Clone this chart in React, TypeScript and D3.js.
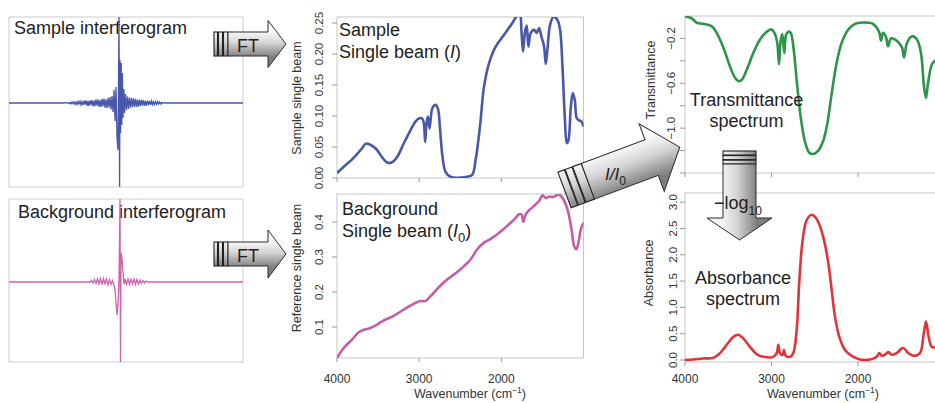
import React from 'react';
import * as d3 from 'd3';

const FONT = '"Liberation Sans", Arial, Helvetica, sans-serif';

// ---------- DATA ----------
// Interferograms: [offset from centre burst (arb. units), signal]
const SAMPLE_IFG: [number, number][] = [
  [-110, 0], [-56, 0], [-52, 0.4], [-50, -0.5], [-49, 0.5], [-48, -0.8], [-47, 1], [-46, -0.6],
  [-45, 1.2], [-44, -1.4], [-43, 0.8], [-42, -1.5], [-41, 1.6], [-40, -1], [-39, 1.8], [-38, -2],
  [-37, 1.2], [-36, -2.2], [-35, 2.4], [-34, -1.5], [-33, 2.6], [-32, -2.8], [-31, 2], [-30, -3],
  [-29, 2.6], [-28, -2.2], [-27, 3], [-26, -3.4], [-25, 2.4], [-24, -3.2], [-23, 3.6], [-22, -2.6],
  [-21, 3.4], [-20, -3.8], [-19, 3], [-18, -4], [-17, 4.2], [-16, -3.2], [-15, 4.4], [-14, -4.6],
  [-13, 3.6], [-12, -5], [-11, 5.2], [-10, -4.4], [-9, 6], [-8, -6.5], [-7, 7], [-6, -9],
  [-5, 13], [-4, -18], [-3, 16], [-2, -35], [-1, -47], [-0.5, 20], [0, 86], [0.6, -84],
  [1, 43], [1.6, -30], [2.2, 40], [2.8, -22], [3.4, 30], [4, -15], [4.8, 14], [5.6, -10],
  [6.5, 9], [7.5, -7], [8.5, 6.5], [9.5, -6], [10.5, 5.5], [11.5, -4.8], [12.5, 5], [13.5, -4.2],
  [14.5, 4.6], [15.5, -3.8], [16.5, 4.2], [17.5, -4], [18.5, 3.4], [19.5, -3.6], [20.5, 3.2],
  [21.5, -2.8], [22.5, 3.4], [23.5, -2.6], [24.5, 2.8], [25.5, -3], [26.5, 2.2], [27.5, -2.6],
  [28.5, 2.4], [29.5, -2], [30.5, 2.2], [31.5, -1.8], [32.5, 2], [33.5, -1.6], [34.5, 1.4],
  [35.5, -1.6], [36.5, 1.2], [37.5, -1.2], [38.5, 1.4], [39.5, -1], [40.5, 0.8], [41.5, -1],
  [42.5, 0.6], [43.5, -0.6], [45, 0.4], [47, 0], [124, 0],
];
const BACKGROUND_IFG: [number, number][] = [
  [-111, 0], [-30, 0], [-28.5, 1.5], [-27, -1], [-25.5, 2.5], [-24, -1.5], [-22.5, 3], [-21, -2],
  [-19.5, 3.5], [-18, -2.5], [-16.5, 3.5], [-15, -2], [-13.5, 3], [-12, -3], [-10.5, 2.5], [-9, -2.5],
  [-7.5, 1.5], [-6, -3], [-5, -8], [-4, -20], [-3, -33], [-2, -22], [-1, 2], [0, 83], [0.5, -80],
  [1, 29], [2, 24], [3, 10], [4, -2], [5, 3], [6.5, -2.5], [8, 3], [9.5, -2.5], [11, 3], [12.5, -2],
  [14, 3], [15.5, -2.5], [17, 2.5], [18.5, -2], [20, 2], [21.5, -1.5], [23, 1.5], [24.5, -1],
  [26, 1], [28, 0], [123, 0],
];

// Spectra: [wavenumber (cm-1), value]
const SAMPLE_BEAM: [number, number][] = [
  [4000, 0.008], [3878, 0.023], [3817, 0.030], [3695, 0.048], [3654, 0.055], [3614, 0.055],
  [3532, 0.048], [3431, 0.030], [3390, 0.025], [3337, 0.025], [3268, 0.034], [3187, 0.056],
  [3106, 0.077], [3045, 0.091], [3004, 0.096], [2963, 0.096], [2943, 0.088], [2927, 0.058],
  [2911, 0.088], [2894, 0.099], [2874, 0.080], [2858, 0.098], [2841, 0.112], [2801, 0.118],
  [2772, 0.112], [2748, 0.083], [2720, 0.039], [2679, 0.010], [2618, 0.002], [2415, 0.002],
  [2354, 0.005], [2313, 0.029], [2260, 0.083], [2211, 0.147], [2150, 0.185], [2069, 0.212],
  [1967, 0.231], [1866, 0.250], [1805, 0.262], [1772, 0.262], [1756, 0.239], [1736, 0.204],
  [1711, 0.237], [1691, 0.246], [1671, 0.212], [1642, 0.234], [1602, 0.239], [1569, 0.234],
  [1541, 0.242], [1512, 0.228], [1480, 0.212], [1459, 0.184], [1439, 0.207], [1407, 0.247],
  [1366, 0.260], [1317, 0.255], [1285, 0.239], [1256, 0.180], [1228, 0.099], [1203, 0.056],
  [1183, 0.061], [1154, 0.115], [1130, 0.137], [1106, 0.126], [1081, 0.096], [1053, 0.093],
  [1024, 0.091], [1000, 0.083],
];
const BACKGROUND_BEAM: [number, number][] = [
  [4000, 0.011], [3919, 0.040], [3817, 0.064], [3736, 0.085], [3675, 0.092], [3593, 0.097],
  [3512, 0.107], [3431, 0.119], [3309, 0.132], [3187, 0.150], [3085, 0.164], [2984, 0.174],
  [2923, 0.174], [2862, 0.188], [2780, 0.209], [2699, 0.228], [2618, 0.243], [2537, 0.257],
  [2455, 0.274], [2374, 0.293], [2293, 0.322], [2211, 0.341], [2130, 0.352], [2049, 0.365],
  [1967, 0.381], [1886, 0.398], [1825, 0.412], [1785, 0.422], [1756, 0.422], [1732, 0.401],
  [1703, 0.422], [1650, 0.436], [1602, 0.446], [1541, 0.460], [1500, 0.476], [1459, 0.469],
  [1419, 0.472], [1358, 0.472], [1309, 0.479], [1256, 0.469], [1195, 0.436], [1146, 0.379],
  [1114, 0.331], [1089, 0.322], [1061, 0.341], [1033, 0.379], [1000, 0.398],
];
const TRANSMITTANCE: [number, number][] = [
  [4000, -0.005], [3923, -0.02], [3865, -0.06], [3788, -0.07], [3692, -0.09], [3634, -0.15],
  [3557, -0.28], [3480, -0.45], [3422, -0.55], [3383, -0.58], [3345, -0.57], [3287, -0.48],
  [3210, -0.33], [3133, -0.21], [3056, -0.14], [2998, -0.12], [2960, -0.16], [2933, -0.24],
  [2913, -0.43], [2894, -0.22], [2875, -0.16], [2852, -0.33], [2832, -0.17], [2805, -0.14],
  [2778, -0.15], [2748, -0.27], [2709, -0.57], [2663, -0.90], [2613, -1.12], [2563, -1.22],
  [2516, -1.23], [2459, -1.20], [2401, -1.11], [2355, -0.96], [2304, -0.69], [2247, -0.42],
  [2189, -0.24], [2112, -0.12], [2035, -0.07], [1977, -0.06], [1880, -0.06], [1827, -0.07],
  [1757, -0.14], [1734, -0.22], [1711, -0.15], [1676, -0.19], [1653, -0.27], [1619, -0.20],
  [1572, -0.21], [1538, -0.23], [1491, -0.28], [1468, -0.37], [1434, -0.24], [1376, -0.18],
  [1318, -0.21], [1272, -0.33], [1237, -0.63], [1214, -0.73], [1191, -0.60], [1145, -0.43],
  [1110, -0.40], [1080, -0.38],
];
const ABSORBANCE: [number, number][] = [
  [4000, 0.0], [3904, 0.01], [3788, 0.03], [3672, 0.04], [3595, 0.13], [3518, 0.29],
  [3441, 0.44], [3383, 0.48], [3326, 0.41], [3249, 0.25], [3171, 0.11], [3094, 0.06],
  [2979, 0.06], [2940, 0.13], [2921, 0.29], [2902, 0.13], [2871, 0.10], [2856, 0.19],
  [2836, 0.08], [2786, 0.06], [2748, 0.13], [2709, 0.57], [2678, 1.52], [2640, 2.28],
  [2593, 2.66], [2536, 2.76], [2486, 2.70], [2439, 2.54], [2393, 2.28], [2343, 1.84],
  [2304, 1.33], [2266, 0.82], [2216, 0.44], [2150, 0.19], [2073, 0.08], [1977, 0.01],
  [1861, 0.01], [1784, 0.06], [1753, 0.13], [1726, 0.08], [1688, 0.10], [1649, 0.15],
  [1611, 0.10], [1553, 0.13], [1495, 0.22], [1468, 0.22], [1418, 0.13], [1360, 0.08],
  [1283, 0.13], [1245, 0.44], [1214, 0.73], [1183, 0.44], [1148, 0.25], [1110, 0.24],
];

const WN_DOMAIN: [number, number] = [4000, 1000];
const WN_TICKS = [4000, 3000, 2000];
const WN_TICK_LABELS = ['4000', '3000', '2000'];

const SAMPLE_Y_TICKS = [0, 0.05, 0.1, 0.15, 0.2, 0.25];
const SAMPLE_Y_LABELS = ['0.00', '0.05', '0.10', '0.15', '0.20', '0.25'];
const BACKGROUND_Y_TICKS = [0.1, 0.2, 0.3, 0.4];
const BACKGROUND_Y_LABELS = ['0.1', '0.2', '0.3', '0.4'];
const TRANS_Y_TICKS = [-1.4, -1.2, -1.0, -0.8, -0.6, -0.4, -0.2];
const TRANS_Y_LABELS = ['', '', '\u22121.0', '', '\u22120.6', '', '\u22120.2'];
const ABS_Y_TICKS = [0, 0.5, 1.0, 1.5, 2.0, 2.5, 3.0];
const ABS_Y_LABELS = ['0.0', '0.5', '1.0', '1.5', '2.0', '2.5', '3.0'];

// ---------- COMPONENTS ----------
type PanelProps = {
  id: string;
  x0: number; x1: number; y0: number; y1: number;
  yDomain: [number, number];
  data: [number, number][];
  color: string;
  yTicks: number[];
  yLabels: string[];
  tickLabelX: number;
  title: string; titleX: number; titleY: number;
  xTitleX?: number;
};

function Panel(p: PanelProps) {
  const x = d3.scaleLinear().domain(WN_DOMAIN).range([p.x0, p.x1]);
  const y = d3.scaleLinear().domain(p.yDomain).range([p.y1, p.y0]);
  const line = d3
    .line<[number, number]>()
    .x((d) => x(d[0]))
    .y((d) => y(d[1]))
    .curve(d3.curveCatmullRom.alpha(0.5));
  const showX = p.xTitleX !== undefined;
  return (
    <g>
      <defs>
        <clipPath id={p.id}>
          <rect x={p.x0} y={p.y0} width={p.x1 - p.x0} height={p.y1 - p.y0} />
        </clipPath>
      </defs>
      <rect x={p.x0} y={p.y0} width={p.x1 - p.x0} height={p.y1 - p.y0} fill="#fff" stroke="#c6c6c6" strokeWidth={1} />
      <path d={line(p.data) || ''} fill="none" stroke={p.color} strokeWidth={2.6} strokeLinejoin="round" clipPath={`url(#${p.id})`} />
      {p.yTicks.map((v, i) => (
        <g key={i}>
          <line x1={p.x0 - 5} x2={p.x0} y1={y(v)} y2={y(v)} stroke="#999" strokeWidth={1} />
          {p.yLabels[i] && (
            <text
              x={p.tickLabelX}
              y={y(v)}
              transform={`rotate(-90 ${p.tickLabelX} ${y(v)})`}
              textAnchor="middle"
              fontSize={11.5}
              fill="#333"
            >
              {p.yLabels[i]}
            </text>
          )}
        </g>
      ))}
      {WN_TICKS.map((v, i) => (
        <g key={i}>
          <line x1={x(v)} x2={x(v)} y1={p.y1} y2={p.y1 + 4} stroke="#999" strokeWidth={1} />
          {showX && (
            <text x={x(v)} y={383} textAnchor="middle" fontSize={12} fill="#333">
              {WN_TICK_LABELS[i]}
            </text>
          )}
        </g>
      ))}
      <text
        x={p.titleX}
        y={p.titleY}
        transform={`rotate(-90 ${p.titleX} ${p.titleY})`}
        textAnchor="middle"
        fontSize={12.5}
        fill="#333"
      >
        {p.title}
      </text>
      {showX && (
        <text x={p.xTitleX} y={398} textAnchor="middle" fontSize={12.5} fill="#333">
          Wavenumber (cm
          <tspan dy={-5} fontSize={8.5}>{'\u22121'}</tspan>
          <tspan dy={5}>)</tspan>
        </text>
      )}
    </g>
  );
}

type IfgProps = {
  id: string;
  x0: number; x1: number; y0: number; y1: number;
  xDomain: [number, number];
  yDomain: [number, number];
  data: [number, number][];
  color: string;
  label: string; labelX: number; labelY: number;
};

function Interferogram(p: IfgProps) {
  const x = d3.scaleLinear().domain(p.xDomain).range([p.x0, p.x1]);
  const y = d3.scaleLinear().domain(p.yDomain).range([p.y1, p.y0]);
  const line = d3
    .line<[number, number]>()
    .x((d) => x(d[0]))
    .y((d) => y(d[1]));
  return (
    <g>
      <defs>
        <clipPath id={p.id}>
          <rect x={p.x0} y={p.y0} width={p.x1 - p.x0} height={p.y1 - p.y0} />
        </clipPath>
      </defs>
      <rect x={p.x0} y={p.y0} width={p.x1 - p.x0} height={p.y1 - p.y0} fill="#fff" stroke="#cdcdcd" strokeWidth={1} />
      <text x={p.labelX} y={p.labelY} fontSize={18} fill="#222">
        {p.label}
      </text>
      <path d={line(p.data) || ''} fill="none" stroke={p.color} strokeWidth={1.3} clipPath={`url(#${p.id})`} />
    </g>
  );
}

type ArrowProps = {
  id: string;
  tx: number; ty: number; angle: number;
  tail: number; body: number; head: number;
  bh: number; hh: number;
  stripes: [number, number][];
  flip?: boolean;
};

function Arrow(a: ArrowProps) {
  const b = a.tail + a.body;
  const L = b + a.head;
  const pts: [number, number][] = [
    [a.tail, -a.bh], [b, -a.bh], [b, -a.hh], [L, 0], [b, a.hh], [b, a.bh], [a.tail, a.bh],
  ];
  const stops = a.flip
    ? [['0', '#7c7c7c'], ['0.55', '#d2d2d2'], ['1', '#f6f6f6']]
    : [['0', '#fbfbfb'], ['0.45', '#d4d4d4'], ['1', '#7e7e7e']];
  return (
    <g transform={`translate(${a.tx},${a.ty}) rotate(${a.angle})`}>
      <defs>
        <linearGradient id={a.id} gradientUnits="userSpaceOnUse" x1={0} y1={-a.bh * 1.1} x2={0} y2={a.bh * 1.1}>
          {stops.map(([o, c]) => (
            <stop key={o} offset={o} stopColor={c} />
          ))}
        </linearGradient>
      </defs>
      {a.stripes.map(([s, e], i) => (
        <rect key={i} x={s} y={-a.bh} width={e - s} height={2 * a.bh} fill={`url(#${a.id})`} stroke="#222" strokeWidth={1.1} />
      ))}
      <polygon points={pts.map((q) => q.join(',')).join(' ')} fill={`url(#${a.id})`} stroke="#2a2a2a" strokeWidth={1} strokeLinejoin="miter" />
    </g>
  );
}

export default function App() {
  return (
    <svg
      width={935}
      height={403}
      style={{ position: 'absolute', left: 0, top: 0, background: '#fff', fontFamily: FONT }}
    >
      <Interferogram
        id="ifg1" x0={9} x1={243} y0={17} y1={187}
        xDomain={[-110, 124]} yDomain={[-84, 86]}
        data={SAMPLE_IFG} color="#4856ac"
        label="Sample interferogram" labelX={14} labelY={34}
      />
      <Interferogram
        id="ifg2" x0={9} x1={243} y0={199} y1={362}
        xDomain={[-111, 123]} yDomain={[-80, 83]}
        data={BACKGROUND_IFG} color="#d062b2"
        label="Background interferogram" labelX={18} labelY={218}
      />

      <Panel
        id="p1" x0={337} x1={583.5} y0={17} y1={178}
        yDomain={[0, 0.2597]} data={SAMPLE_BEAM} color="#4a58a8"
        yTicks={SAMPLE_Y_TICKS} yLabels={SAMPLE_Y_LABELS} tickLabelX={323}
        title="Sample single beam" titleX={301} titleY={98}
      />
      <Panel
        id="p2" x0={337} x1={583.5} y0={194} y1={358}
        yDomain={[0.0114, 0.48]} data={BACKGROUND_BEAM} color="#c45ca8"
        yTicks={BACKGROUND_Y_TICKS} yLabels={BACKGROUND_Y_LABELS} tickLabelX={323}
        title="Reference single beam" titleX={301} titleY={268} xTitleX={470}
      />
      <Panel
        id="p3" x0={685} x1={944.5} y0={16} y1={173}
        yDomain={[-1.4, 0.0]} data={TRANSMITTANCE} color="#2e9448"
        yTicks={TRANS_Y_TICKS} yLabels={TRANS_Y_LABELS} tickLabelX={675}
        title="Transmittance" titleX={655} titleY={80}
      />
      <Panel
        id="p4" x0={685} x1={944.5} y0={193} y1={362}
        yDomain={[-0.038, 3.175]} data={ABSORBANCE} color="#e0333a"
        yTicks={ABS_Y_TICKS} yLabels={ABS_Y_LABELS} tickLabelX={677}
        title="Absorbance" titleX={653} titleY={273} xTitleX={823}
      />

      {/* panel annotations */}
      <g fontSize={18} fill="#222">
        <text x={339} y={36}>Sample</text>
        <text x={339} y={58}>
          Single beam (<tspan fontStyle="italic">I</tspan>)
        </text>
        <text x={342} y={215}>Background</text>
        <text x={342} y={237}>
          Single beam (<tspan fontStyle="italic">I</tspan>
          <tspan dy={5} fontSize={13}>0</tspan>
          <tspan dy={-5}>)</tspan>
        </text>
        <text x={746.5} y={106} textAnchor="middle">Transmittance</text>
        <text x={746.5} y={127} textAnchor="middle">spectrum</text>
        <text x={743} y={284} textAnchor="middle">Absorbance</text>
        <text x={743} y={305} textAnchor="middle">spectrum</text>
      </g>

      {/* arrows */}
      <Arrow id="ga1" tx={214} ty={44} angle={0} tail={14} body={40} head={18} bh={12} hh={23.5}
        stripes={[[0, 3.5], [4.5, 8.5], [9.5, 14]]} />
      <text x={248} y={52} textAnchor="middle" fontSize={18} fill="#222">FT</text>
      <Arrow id="ga2" tx={214} ty={254} angle={0} tail={14} body={40} head={18} bh={12} hh={24}
        stripes={[[0, 3.5], [4.5, 8.5], [9.5, 14]]} />
      <text x={248} y={262} textAnchor="middle" fontSize={18} fill="#222">FT</text>

      <Arrow id="ga3" tx={564.5} ty={190} angle={-20.4} tail={25} body={68} head={30} bh={19} hh={36}
        stripes={[[0, 7], [7.8, 15], [15.8, 25]]} />
      <text x={605} y={180} fontSize={17} fill="#222" fontStyle="italic">
        I/I<tspan dy={5} fontSize={12} fontStyle="normal">0</tspan>
      </text>

      <Arrow id="ga4" tx={739.5} ty={151} angle={90} tail={13} body={54} head={22} bh={16.5} hh={32.5}
        stripes={[[0, 4], [4.6, 8.6], [9.2, 13]]} flip />
      <text x={714} y={209} fontSize={18} fill="#222">
        {'\u2212log'}<tspan dy={6} fontSize={12}>10</tspan>
      </text>
    </svg>
  );
}
